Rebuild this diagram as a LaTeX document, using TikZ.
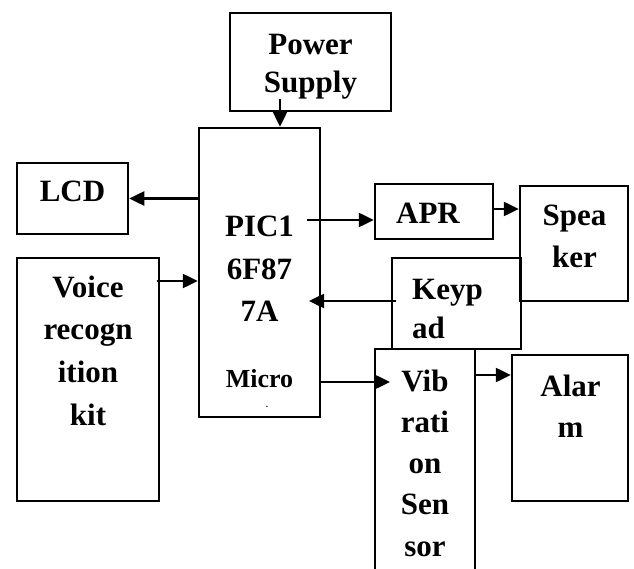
\documentclass[tikz,border=0pt]{standalone}
\usepackage{fontspec}
\setmainfont{Liberation Serif}
\usetikzlibrary{arrows.meta}
\begin{document}
\begin{tikzpicture}[x=1pt,y=-1pt,
  box/.style={draw, line width=2.5pt, inner sep=0pt, anchor=center},
  arr/.style={line width=2.5pt, -{Triangle[length=15pt,width=14pt]}},
  lbl/.style={font=\fontsize{31}{#1}\selectfont\bfseries, inner sep=0pt, anchor=base},
  lbl/.default=42]
\useasboundingbox (0,0) rectangle (634,569);
\clip (0,0) rectangle (634,569);
% boxes
\node[box, minimum width=161pt, minimum height=98pt]  (pow) at (310.5,62) {};
\node[box, minimum width=121pt, minimum height=289pt] (pic) at (259.5,272.5) {};
\node[box, minimum width=111pt, minimum height=71pt]  (lcd) at (72.5,198.5) {};
\node[box, minimum width=142pt, minimum height=243pt] (voice) at (88,379.5) {};
\node[box, minimum width=118pt, minimum height=55pt]  (apr) at (434,211.5) {};
\node[box, minimum width=108pt, minimum height=115pt] (spk) at (574,243.5) {};
\node[box, minimum width=129pt, minimum height=91pt]  (key) at (456.5,303.5) {};
\node[box, minimum width=100pt, minimum height=241pt] (vib) at (425,469.5) {};
\node[box, minimum width=116pt, minimum height=146pt] (alarm) at (570,428) {};
% texts
\node[lbl=38] (powt) at (310.5,55) {\begin{tabular}[t]{@{}c@{}}Power\\Supply\end{tabular}};
\node[lbl=42.5] (pict) at (259.5,237) {\begin{tabular}[t]{@{}c@{}}PIC1\\6F87\\7A\end{tabular}};
\node[lbl, font=\fontsize{26}{30}\selectfont\bfseries] (micro) at (259.5,387) {Micro};
\node[lbl, font=\fontsize{9}{10}\selectfont\bfseries] (dot) at (267,407) {.};
\node[lbl] (lcdt) at (72.5,202) {LCD};
\node[lbl=42.7] (voicet) at (88,297) {\begin{tabular}[t]{@{}c@{}}Voice\\recogn\\ition\\kit\end{tabular}};
\node[lbl] (aprt) at (428,224) {APR};
\node[lbl=41] (spkt) at (574.5,226) {\begin{tabular}[t]{@{}c@{}}Spea\\ker\end{tabular}};
\node[lbl=39, anchor=base west] (keyt) at (412,299) {\begin{tabular}[t]{@{}l@{}}Keyp\\ad\end{tabular}};
\node[lbl=41.25] (vibt) at (425,391) {\begin{tabular}[t]{@{}c@{}}Vib\\rati\\on\\Sen\\sor\end{tabular}};
\node[lbl=41] (alarmt) at (570.5,396) {\begin{tabular}[t]{@{}c@{}}Alar\\m\end{tabular}};
% connector ends
\coordinate (pwout) at (280,99);
\coordinate (vin) at (157,281);
\coordinate (aprin) at (307,220);
\coordinate (spkin) at (493,209);
\coordinate (keyout) at (396,301);
\coordinate (keytip) at (309,301);
\coordinate (vibin) at (320,382);
\coordinate (vibtip) at (390,382);
\coordinate (alin) at (475,375);
% connectors
\draw[arr] (pwout) -- (pwout |- pic.north);
\draw[arr] (pic.west |- lcd.east) -- (lcd.east);
\draw[arr] (vin) -- (vin -| pic.west);
\draw[arr] (aprin) -- (aprin -| apr.west);
\draw[arr] (spkin) -- (spkin -| spk.west);
\draw[arr] (keyout) -- (keytip);
\draw[arr] (vibin) -- (vibtip);
\draw[arr] (alin) -- (alin -| alarm.west);
\end{tikzpicture}
\end{document}
